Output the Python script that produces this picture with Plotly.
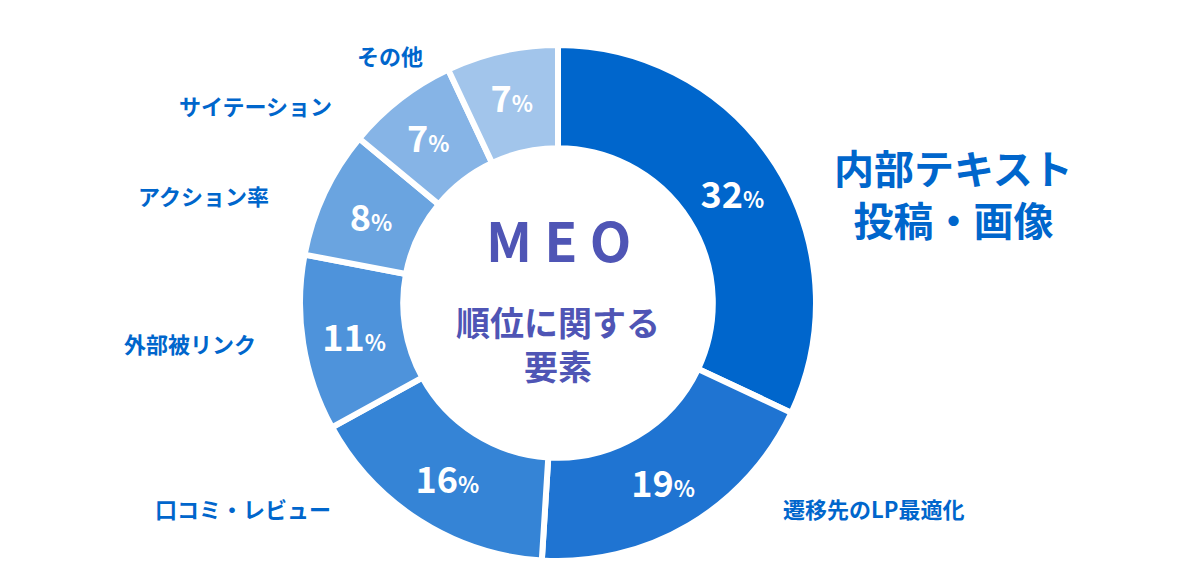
import plotly.graph_objects as go

labels = ["内部テキスト投稿・画像", "遷移先のLP最適化", "口コミ・レビュー", "外部被リンク", "アクション率", "サイテーション", "その他"]
values = [32, 19, 16, 11, 8, 7, 7]
colors = ["#0066CC", "#1F74D2", "#3584D6", "#4E93DB", "#6AA4E0", "#86B4E6", "#A2C5EB"]

W, H = 1200, 575
FONT = "Noto Sans CJK JP"

fig = go.Figure(go.Pie(
    labels=labels, values=values, sort=False, direction="clockwise", rotation=0,
    hole=0.6,
    marker=dict(colors=colors, line=dict(color="white", width=6)),
    texttemplate="<b>%{value}</b><span style='font-size:22px'><b>%</b></span>",
    textposition="inside", insidetextorientation="horizontal",
    textfont=dict(family=FONT, size=36, color="white"),
    domain=dict(x=[292/W, 808/W], y=[22/H, 538/H]),
    showlegend=False,
))

ann = [
    ("内部テキスト<br>投稿・画像", 945, 185, 40),
    ("遷移先のLP最適化", 865, 500, 22),
    ("口コミ・レビュー", 235, 500, 22),
    ("外部被リンク", 182, 335, 22),
    ("アクション率", 195, 187, 22),
    ("サイテーション", 247, 97, 22),
    ("その他", 382, 47, 22),
]
for t, x, y, s in ann:
    fig.add_annotation(text=f"<b>{t}</b>", x=x/W, y=1-y/H, xref="paper", yref="paper",
                       xanchor="center", yanchor="middle",
                       showarrow=False, font=dict(family=FONT, size=s, color="#0066CC"))

fig.add_annotation(text="<b>M E O</b>", x=550/W, y=1-230/H, xref="paper", yref="paper",
                   xanchor="center", yanchor="middle",
                   showarrow=False, font=dict(family=FONT, size=54, color="#4F55B5"))
fig.add_annotation(text="<b>順位に関する<br>要素</b>", x=550/W, y=1-335/H, xref="paper", yref="paper",
                   xanchor="center", yanchor="middle",
                   showarrow=False, font=dict(family=FONT, size=34, color="#4F55B5"))

fig.update_layout(width=W, height=H, margin=dict(l=0, r=0, t=0, b=0),
                  paper_bgcolor="white", plot_bgcolor="white")
fig.write_html("out.html")
